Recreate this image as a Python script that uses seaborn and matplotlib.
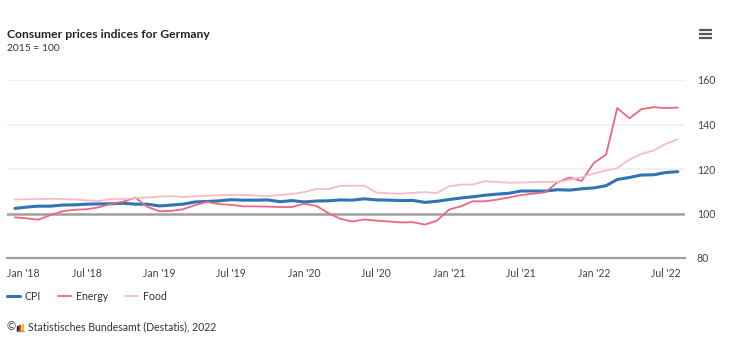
import numpy as np
import pandas as pd
import matplotlib
matplotlib.use("Agg")
import matplotlib.pyplot as plt
import matplotlib.dates as mdates
import matplotlib.transforms as mtransforms
from matplotlib.lines import Line2D
from matplotlib.patches import Rectangle
import seaborn as sns

# Monthly indices, Jan 2018 - Aug 2022 (2015 = 100)
months = pd.date_range("2018-01-01", "2022-08-01", freq="MS")
cpi = [102.3, 102.9, 103.3, 103.3, 103.8, 103.9, 104.2, 104.3, 104.4, 104.6, 104.2, 104.2,
       103.4, 103.8, 104.2, 105.2, 105.4, 105.7, 106.2, 106.0, 106.0, 106.1, 105.3, 105.8,
       105.2, 105.6, 105.7, 106.1, 106.0, 106.6, 106.1, 106.0, 105.8, 105.9, 105.0, 105.5,
       106.3, 107.0, 107.5, 108.2, 108.7, 109.1, 110.1, 110.1, 110.1, 110.7, 110.5, 111.1,
       111.5, 112.5, 115.3, 116.2, 117.3, 117.4, 118.4, 118.8]
energy = [98.3, 97.8, 97.2, 99.3, 101.0, 101.7, 101.9, 102.8, 104.4, 105.3, 107.1, 103.0,
          101.0, 101.2, 101.9, 103.8, 105.2, 104.2, 103.9, 103.2, 103.2, 103.1, 102.9, 102.9,
          104.4, 103.4, 100.3, 97.6, 96.4, 97.3, 96.8, 96.4, 96.0, 96.1, 95.0, 96.8,
          101.8, 103.3, 105.5, 105.5, 106.2, 107.2, 108.3, 108.9, 109.6, 114.0, 116.2, 114.6,
          122.7, 126.5, 147.4, 142.8, 146.9, 147.8, 147.4, 147.6]
food = [106.3, 106.4, 106.5, 106.6, 106.5, 106.3, 105.9, 105.6, 106.5, 106.5, 106.9, 107.2,
        107.6, 107.8, 107.4, 107.7, 108.0, 108.2, 108.4, 108.4, 108.1, 107.8, 108.3, 108.8,
        109.6, 111.1, 110.9, 112.4, 112.5, 112.5, 109.4, 109.1, 108.9, 109.3, 109.6, 109.2,
        112.2, 113.0, 113.0, 114.5, 114.2, 113.8, 113.9, 114.1, 114.2, 114.2, 115.1, 116.3,
        118.0, 119.3, 120.4, 124.3, 126.8, 128.3, 131.3, 133.3]

series_names = ["CPI", "Energy", "Food"]
y_ticks = [80, 100, 120, 140, 160]

colors = ["#2f74b5", "#e9687c", "#f6bcc7"]
widths = [2.2, 1.3, 1.3]

df = pd.DataFrame({
    "month": np.tile(months, len(series_names)),
    "value": cpi + energy + food,
    "series": np.repeat(series_names, len(months)),
})

sns.set_theme(style="white")
plt.rcParams["font.family"] = ["Lato", "DejaVu Sans"]

W, H = 740, 344
fig = plt.figure(figsize=(W / 100, H / 100), dpi=100)
fig.patch.set_facecolor("white")

# axes box in pixel terms: x 7..685, y 80..258
ax = fig.add_axes([7 / W, 1 - 258 / H, (685 - 7) / W, (258 - 80) / H])

sns.lineplot(data=df, x="month", y="value", hue="series", hue_order=series_names,
             palette=colors, ax=ax, legend=False, zorder=3)
for line, lw in zip(ax.lines, widths):
    line.set_linewidth(lw)
    line.set_solid_capstyle("round")
    line.set_solid_joinstyle("round")

ax.set_xlim(pd.Timestamp("2017-12-12"), pd.Timestamp("2022-08-19"))
ax.set_ylim(80, 160)
ax.set_xlabel("")
ax.set_ylabel("")

# gridlines and the 100 baseline
ax.set_axisbelow(True)
ax.set_yticks(y_ticks)
ax.grid(axis="y", color="#f0f0f0", linewidth=1.3)
ax.grid(axis="x", visible=False)
ax.axhline(100, color="#a0a0a0", linewidth=1.8, zorder=2)

for side in ["top", "left", "right"]:
    ax.spines[side].set_visible(False)
ax.spines["bottom"].set_color("#a0a0a0")
ax.spines["bottom"].set_linewidth(1.6)

ax.yaxis.tick_right()
ax.tick_params(axis="y", length=0, pad=8.6, labelsize=7.6, labelcolor="#444444")

ax.xaxis.set_major_locator(mdates.MonthLocator(bymonth=[1, 7]))
ax.xaxis.set_minor_locator(mdates.MonthLocator())
ax.xaxis.set_major_formatter(mdates.DateFormatter("%b '%y"))
ax.tick_params(axis="x", which="major", length=4.5, width=1.0, color="#999999",
               labelsize=7.6, labelcolor="#444444", pad=2.5)
ax.tick_params(axis="x", which="minor", length=3, width=0.8, color="#b0b0b0")

# first label is nudged right so it stays inside the frame
first = ax.xaxis.get_major_ticks()[0].label1
first.set_horizontalalignment("left")
first.set_transform(first.get_transform() +
                    mtransforms.ScaledTranslation(-8 / 100, 0, fig.dpi_scale_trans))

# title block
fig.text(7 / W, 1 - 37.7 / H, "Consumer prices indices for Germany", fontsize=8.7,
         fontweight="bold", color="#222222", va="baseline", ha="left")
fig.text(7 / W, 1 - 50.7 / H, "2015 = 100", fontsize=7.4, color="#333333",
         va="baseline", ha="left")

# menu icon
for yy in (29.5, 33.5, 37.5):
    fig.add_artist(Line2D([699 / W, 712 / W], [1 - yy / H, 1 - yy / H], color="#555555",
                          linewidth=1.6, solid_capstyle="butt"))

# legend
handles = [Line2D([0], [0], color=c, linewidth=lw) for c, lw in zip(colors, widths)]
leg = fig.legend(handles, series_names, loc="center left",
                 bbox_to_anchor=(7 / W, 1 - 296 / H), ncol=3, frameon=False,
                 handlelength=1.25, handletextpad=0.45, columnspacing=1.6,
                 borderpad=0, borderaxespad=0, fontsize=7.6)
for t in leg.get_texts():
    t.set_color("#333333")

# credit line
fig.text(6.5 / W, 1 - 330.5 / H, "©", fontsize=8, color="#333333", va="baseline", ha="left")
logo = [(17, 0.9, "#222222", 4.5), (19, 1.4, "#d9343b", 6), (21.5, 1.4, "#f2c300", 7)]
for x0, w, c, h in logo:
    fig.add_artist(Rectangle((x0 / W, 1 - 330.5 / H), w / W, h / H, color=c,
                             transform=fig.transFigure))
fig.add_artist(Line2D([16 / W, 24 / W], [1 - 330.8 / H, 1 - 330.8 / H], color="#9a9a9a",
                      linewidth=0.8))
fig.text(28 / W, 1 - 326.5 / H, "Statistisches Bundesamt (Destatis), 2022", fontsize=7.6,
         color="#333333", va="center", ha="left")

fig.savefig("out.png", dpi=100, facecolor="white")
